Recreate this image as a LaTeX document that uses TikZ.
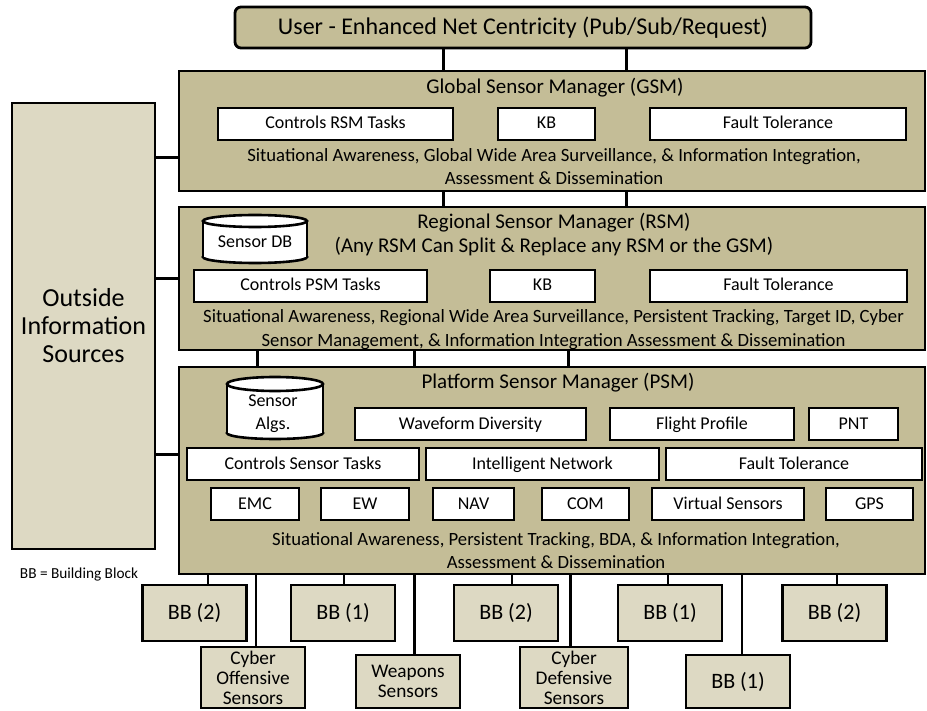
\documentclass[tikz,border=0pt]{standalone}
\usepackage{fontspec}
\setmainfont{Carlito}
\definecolor{tanDark}{HTML}{C4BD97}
\definecolor{tanLight}{HTML}{DDD9C3}
\begin{document}
\begin{tikzpicture}[x=1pt,y=-1pt,
  every node/.style={inner sep=0pt, outer sep=0pt},
  manager/.style={draw, fill=tanDark, line width=2.8pt},
  subbox/.style={draw, fill=white, line width=2.6pt, minimum height=32pt,
    text height=13pt, text depth=3pt, font=\fontsize{18}{20}\selectfont},
  titletext/.style={font=\fontsize{21}{24}\selectfont, align=center},
  bodytext/.style={font=\fontsize{18.7}{23}\selectfont, align=center},
  block/.style={draw, fill=tanLight, line width=2.8pt, minimum width=104pt,
    font=\fontsize{22}{24}\selectfont, align=center},
  sensorblock/.style={draw, fill=tanLight, line width=2.8pt, minimum width=104pt,
    font=\fontsize{19.3}{20}\selectfont, align=center},
  conn/.style={line width=3pt},
  bbconn/.style={line width=2.2pt},
  thinconn/.style={line width=1.6pt},
  cylline/.style={line width=2.6pt}
]
\useasboundingbox (0,0) rectangle (927,711);

% ---- user layer ----
\node[manager, rounded corners=6pt, minimum width=576pt, minimum height=41pt,
      font=\fontsize{24}{26}\selectfont] (user) at (523,27.5)
      {User - Enhanced Net Centricity (Pub/Sub/Request)};

% ---- outside information ----
\node[draw, fill=tanLight, line width=2.8pt, minimum width=143pt, minimum height=446pt,
      font=\fontsize{26}{28}\selectfont, align=center] (outside) at (83.5,326)
      {Outside\\Information\\Sources};

% ---- global sensor manager ----
\node[manager, minimum width=746pt, minimum height=120pt] (gsm) at (552,131) {};
\node[titletext] (gsmT) at (555,88) {Global Sensor Manager (GSM)};
\node[subbox, minimum width=235pt] (gsmC) at (335.5,124) {Controls RSM Tasks};
\node[subbox, minimum width=97pt] (gsmK) at (546.5,124) {KB};
\node[subbox, minimum width=256pt] (gsmF) at (778,124) {Fault Tolerance};
\node[bodytext] (gsmS) at (554,167)
  {Situational Awareness, Global Wide Area Surveillance, \& Information Integration,\\
   Assessment \& Dissemination};

% ---- regional sensor manager ----
\node[manager, minimum width=746pt, minimum height=143pt] (rsm) at (552,278.5) {};
\node[titletext] (rsmT) at (554,235)
  {Regional Sensor Manager (RSM)\\(Any RSM Can Split \& Replace any RSM or the GSM)};
% database cylinder
\fill[white] (255,257) ellipse [x radius=52, y radius=6];
\draw[cylline] (255,257) ellipse [x radius=52, y radius=6];
\fill[white] (203,221) rectangle (307,257);
\draw[cylline] (203,221) -- (203,257) (307,221) -- (307,257);
\draw[cylline, fill=white] (255,221) ellipse [x radius=52, y radius=6];
\node[font=\fontsize{18}{20}\selectfont] (sdb) at (255,242) {Sensor DB};
\node[subbox, minimum width=233pt] (rsmC) at (310.5,286) {Controls PSM Tasks};
\node[subbox, minimum width=105pt] (rsmK) at (542.5,286) {KB};
\node[subbox, minimum width=257pt] (rsmF) at (778.5,286) {Fault Tolerance};
\node[bodytext, font=\fontsize{18.7}{24}\selectfont] (rsmS) at (553.5,330)
  {Situational Awareness, Regional Wide Area Surveillance, Persistent Tracking, Target ID, Cyber\\
   Sensor Management, \& Information Integration Assessment \& Dissemination};

% ---- platform sensor manager ----
\node[manager, minimum width=746pt, minimum height=207pt] (psm) at (552,470.5) {};
\node[titletext] (psmT) at (558,383) {Platform Sensor Manager (PSM)};
% algorithm store cylinder
\fill[white] (275,433) ellipse [x radius=48, y radius=6];
\draw[cylline] (275,433) ellipse [x radius=48, y radius=6];
\fill[white] (227,384) rectangle (323,433);
\draw[cylline] (227,384) -- (227,433) (323,384) -- (323,433);
\draw[cylline, fill=white] (275,384) ellipse [x radius=48, y radius=7];
\node[font=\fontsize{18}{23}\selectfont, align=center] (salg) at (273,413.5) {Sensor\\Algs.};
\node[subbox, minimum width=231pt] (psmW) at (470.5,424) {Waveform Diversity};
\node[subbox, minimum width=184pt] (psmFP) at (702,424) {Flight Profile};
\node[subbox, minimum width=89pt] (psmP) at (853.5,424) {PNT};
\node[subbox, minimum width=232pt] (psmC) at (303,464) {Controls Sensor Tasks};
\node[subbox, minimum width=233pt] (psmI) at (542.5,464) {Intelligent Network};
\node[subbox, minimum width=256pt] (psmF) at (794,464) {Fault Tolerance};
\node[subbox, minimum width=88pt] (emc) at (255,504) {EMC};
\node[subbox, minimum width=88pt] (ew) at (365,504) {EW};
\node[subbox, minimum width=81pt] (nav) at (473.5,504) {NAV};
\node[subbox, minimum width=87pt] (com) at (585.5,504) {COM};
\node[subbox, minimum width=152pt] (vs) at (728,504) {Virtual Sensors};
\node[subbox, minimum width=87pt] (gps) at (869.5,504) {GPS};
\node[bodytext] (psmS) at (556,550.5)
  {Situational Awareness, Persistent Tracking, BDA, \& Information Integration,\\
   Assessment \& Dissemination};

% ---- legend ----
\node[font=\fontsize{15.3}{17}\selectfont] (legend) at (79,575) {BB = Building Block};

% ---- building blocks and sensors ----
\node[block, minimum height=56pt] (bbA) at (194.5,613) {BB (2)};
\node[block, minimum height=56pt] (bbB) at (343,613) {BB (1)};
\node[block, minimum height=56pt] (bbC) at (506,613) {BB (2)};
\node[block, minimum height=56pt] (bbD) at (670,613) {BB (1)};
\node[block, minimum height=56pt] (bbE) at (834.5,613) {BB (2)};
\node[sensorblock, minimum height=61pt] (cyo) at (253,677.5) {Cyber\\Offensive\\Sensors};
\node[sensorblock, minimum height=53pt] (wpn) at (408,681.5) {Weapons\\Sensors};
\node[sensorblock, minimum width=108pt, minimum height=61pt] (cyd) at (574,677.5) {Cyber\\Defensive\\Sensors};
\node[block, minimum height=53pt] (bbF) at (738,681.5) {BB (1)};

% ---- connectors ----
\draw[conn] ([xshift=-80pt]user.south) -- ([xshift=-80pt]user.south |- gsm.north);
\draw[conn] ([xshift=103pt]user.south) -- ([xshift=103pt]user.south |- gsm.north);
\draw[conn] ([xshift=-109pt]gsm.south) -- ([xshift=-109pt]gsm.south |- rsm.north);
\draw[conn] ([xshift=74pt]gsm.south) -- ([xshift=74pt]gsm.south |- rsm.north);
\draw[conn] ([xshift=-295pt]rsm.south) -- ([xshift=-295pt]rsm.south |- psm.north);
\draw[conn] ([xshift=-138pt]rsm.south) -- ([xshift=-138pt]rsm.south |- psm.north);
\draw[conn] ([xshift=16pt]rsm.south) -- ([xshift=16pt]rsm.south |- psm.north);

\draw[conn] ([yshift=-27pt]gsm.west) -- ([yshift=-27pt]gsm.west -| outside.east);
\draw[conn] (rsm.west) -- (rsm.west -| outside.east);
\draw[conn] ([yshift=16.5pt]psm.west) -- ([yshift=16.5pt]psm.west -| outside.east);

\draw[bbconn] ([xshift=13.5pt]bbA.north) -- ([xshift=13.5pt]bbA.north |- psm.south);
\draw[bbconn] ([xshift=1pt]bbB.north) -- ([xshift=1pt]bbB.north |- psm.south);
\draw[bbconn] ([xshift=6pt]bbC.north) -- ([xshift=6pt]bbC.north |- psm.south);
\draw[bbconn] ([xshift=-2pt]bbD.north) -- ([xshift=-2pt]bbD.north |- psm.south);
\draw[bbconn] ([xshift=2.5pt]bbE.north) -- ([xshift=2.5pt]bbE.north |- psm.south);
\draw[thinconn] ([xshift=3pt]cyo.north) -- ([xshift=3pt]cyo.north |- psm.south);
\draw[conn] ([xshift=6pt]wpn.north) -- ([xshift=6pt]wpn.north |- psm.south);
\draw[conn] ([xshift=-4pt]cyd.north) -- ([xshift=-4pt]cyd.north |- psm.south);
\draw[thinconn] ([xshift=4pt]bbF.north) -- ([xshift=4pt]bbF.north |- psm.south);
\end{tikzpicture}
\end{document}
